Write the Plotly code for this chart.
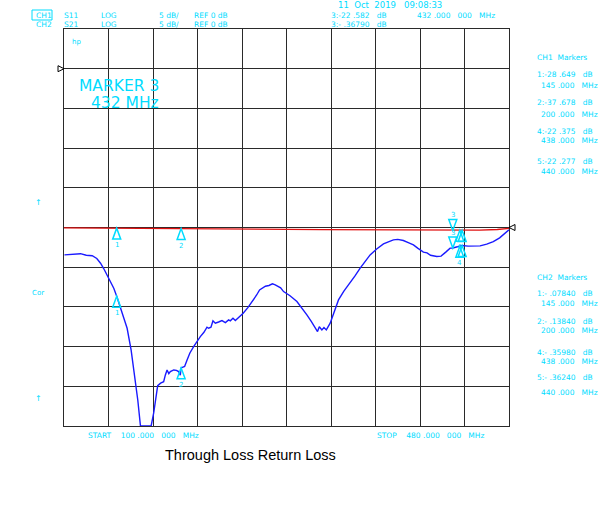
import plotly.graph_objects as go

# ---------------- data ----------------
s11_freq = [100.4, 107, 114.1, 119, 124.1, 128, 131.2, 134, 136.9, 139.7, 142.5, 145, 149.6, 153.9,
            157.3, 160.1, 163, 165.3, 174.4, 176.6, 178.5, 180, 182.5, 185.1, 186.5, 188, 189.5, 190.8,
            193.7, 196, 197.9, 199.3, 200, 203, 205.1, 207.5, 210.7, 213.5, 216.4, 219.5, 222.1, 223.5,
            225.5, 227.2, 229.2, 232, 234.9, 237.8, 240.6, 242, 244.3, 246.3, 250.6, 253, 257, 261.9,
            264.5, 267, 269.1, 272, 275, 278, 280.4, 283, 285, 287.5, 293, 298.9, 303, 307.4, 311, 314.5,
            316.5, 318, 320.2, 322, 324, 327.3, 330, 334.4, 339, 344.4, 348.5, 352.9, 357, 361.4, 367,
            372.8, 377, 381.3, 385, 389.8, 394, 398.4, 402, 406.9, 410, 413, 418.3, 422, 426, 429.7, 432,
            435, 438, 440, 445, 450, 455.3, 461, 466.6, 472, 476, 480]
s11_db = [-23.45, -23.35, -23.3, -23.5, -23.55, -23.9, -24.5, -25.2, -25.97, -26.8, -27.65, -28.65, -30.6,
          -32.69, -35.42, -38.32, -41.72, -45.0, -45.0, -43.36, -41.2, -39.92, -39.6, -39.42, -38.6, -37.94,
          -38.4, -38.15, -37.94, -38.0, -38.15, -38.6, -37.68, -37.5, -36.68, -35.8, -35.0, -34.3, -33.74,
          -33.2, -32.56, -32.69, -32.56, -31.76, -32.05, -31.9, -31.72, -31.97, -31.64, -31.75, -31.43,
          -31.72, -31.14, -30.8, -30.1, -29.12, -28.5, -27.86, -27.64, -27.4, -27.3, -27.1, -27.23, -27.5,
          -27.6, -28.07, -28.6, -29.33, -30.1, -31.0, -31.8, -32.69, -33.1, -32.5, -32.9, -32.6, -32.9,
          -32.05, -31.0, -29.12, -28.0, -27.0, -26.1, -25.12, -24.3, -23.45, -22.7, -22.06, -21.8, -21.56,
          -21.5, -21.64, -21.9, -22.19, -22.6, -23.1, -23.2, -23.5, -23.66, -23.6, -23.1, -22.6, -22.582,
          -22.45, -22.375, -22.277, -22.35, -22.3, -22.31, -22.1, -21.77, -21.3, -20.8, -20.3]

s21_freq = [100, 120, 145, 170, 200, 230, 260, 290, 320, 350, 380, 410, 432, 438, 440, 455, 470, 480]
s21_db = [-0.05, -0.06, -0.0784, -0.1, -0.1384, -0.17, -0.2, -0.24, -0.27, -0.3, -0.32, -0.34,
          -0.3679, -0.3598, -0.3624, -0.33, -0.25, -0.12]

marker_num = [1, 2, 3, 4, 5]
marker_freq = [145, 200, 432, 438, 440]
marker_ch1 = [-28.649, -37.678, -22.582, -22.375, -22.277]
marker_ch2 = [-0.0784, -0.1384, -0.3679, -0.3598, -0.3624]
active_marker = 3

CYAN = "#00dcff"
FONT = "DejaVu Sans"

fig = go.Figure()
fig.add_trace(go.Scatter(x=s21_freq, y=s21_db, mode="lines", yaxis="y2",
                         line=dict(color="#e01010", width=1.3), hoverinfo="skip"))
fig.add_trace(go.Scatter(x=s11_freq, y=s11_db, mode="lines", yaxis="y", cliponaxis=False,
                         line=dict(color="#1a1aff", width=1.4), hoverinfo="skip"))

shapes = []
annotations = []

# marker triangles
for num, f, v1, v2 in zip(marker_num, marker_freq, marker_ch1, marker_ch2):
    for yref, v in (("y", v1), ("y2", v2)):
        if num == active_marker:
            path = "M0,0 L-4,11 L4,11 Z"
            lab_shift = 15
        else:
            path = "M0,0 L-4,-11 L4,-11 Z"
            lab_shift = -17
        shapes.append(dict(type="path", xref="x", yref=yref, xsizemode="pixel", ysizemode="pixel",
                           xanchor=f, yanchor=v, path=path, line=dict(color=CYAN, width=1.5)))
        if num != 5:
            annotations.append(dict(text=str(num), x=f, y=v, xref="x", yref=yref, yshift=lab_shift,
                                    showarrow=False, font=dict(family=FONT, size=7, color=CYAN)))

# reference position indicators
shapes.append(dict(type="path", xref="paper", yref="y", xsizemode="pixel", ysizemode="pixel",
                   xanchor=0, yanchor=0, path="M-6,3 L0,0 L-6,-3 Z", line=dict(color="black", width=1)))
shapes.append(dict(type="path", xref="paper", yref="y2", xsizemode="pixel", ysizemode="pixel",
                   xanchor=1, yanchor=0, path="M6,3 L0,0 L6,-3 Z", line=dict(color="black", width=1)))

L, R, T, B = 64, 509, 29, 426


def txt(text, px, py, size=7.5, color=CYAN, xanchor="left", family=FONT):
    annotations.append(dict(text=text, x=(px - L) / (R - L), y=(B - py) / (B - T), xref="paper",
                            yref="paper", showarrow=False, xanchor=xanchor, yanchor="middle",
                            font=dict(family=family, size=size, color=color)))


hdr1 = ["CH1", "S11", "LOG", "5 dB/", "REF 0 dB"]
hdr2 = ["CH2", "S21", "LOG", "5 dB/", "REF 0 dB"]
hdr_x = [34, 62, 99, 157, 192]
for t, xx in zip(hdr1, hdr_x):
    txt(t, xx, 15)
for t, xx in zip(hdr2, hdr_x):
    txt(t, xx, 24)
shapes.append(dict(type="rect", xref="paper", yref="paper",
                   x0=(32 - L) / (R - L), x1=(52 - L) / (R - L),
                   y0=(B - 20) / (B - T), y1=(B - 10) / (B - T), line=dict(color=CYAN, width=1)))

txt("11  Oct  2019   09:08:33", 336, 5, size=8.5)
txt("3:-22 .582   dB", 329, 15)
txt("432 .000   000   MHz", 415, 15)
txt("3:- .36790   dB", 329, 24)
txt("hp", 70, 42, size=7)
txt("MARKER 3", 77, 86, size=15.5)
txt("432 MHz", 89, 103, size=15.5)
txt("↑", 38, 203, size=8, xanchor="center")
txt("Cor", 38, 293, size=7, xanchor="center")
txt("↑", 38, 398, size=8, xanchor="center")

ch1_lines = [("CH1  Markers", 58), ("1:-28 .649   dB", 75), ("145 .000   MHz", 85),
             ("2:-37 .678   dB", 102), ("200 .000   MHz", 114), ("4:-22 .375   dB", 131),
             ("438 .000   MHz", 140), ("5:-22 .277   dB", 161), ("440 .000   MHz", 171)]
ch2_lines = [("CH2  Markers", 277), ("1:- .07840   dB", 293), ("145 .000   MHz", 303),
             ("2:- .13840   dB", 321), ("200 .000   MHz", 330), ("4:- .35980   dB", 352),
             ("438 .000   MHz", 361), ("5:- .36240   dB", 377), ("440 .000   MHz", 392)]
for t, yy in ch1_lines + ch2_lines:
    xx = 535 if ("Markers" in t or ":" in t) else 539
    txt(t, xx, yy, size=7.5)

txt("START    100 .000   000   MHz", 86, 436, size=7.5)
txt("STOP    480 .000   000   MHz", 375, 436, size=7.5)
txt("Through Loss Return Loss", 250, 455, size=14.5, color="black", xanchor="center",
    family="Liberation Sans")

grid = dict(showgrid=True, gridcolor="#2a2a2a", gridwidth=1.4, zeroline=False, showticklabels=False,
            ticks="", showline=True, linecolor="#2a2a2a", linewidth=1.4, mirror=True)

fig.update_layout(
    width=600, height=530,
    margin=dict(l=L, r=600 - R, t=T, b=530 - B),
    paper_bgcolor="white", plot_bgcolor="white",
    showlegend=False,
    xaxis=dict(range=[100, 480], dtick=38, tick0=100, **grid),
    yaxis=dict(range=[-45, 5], dtick=5, tick0=-45, **grid),
    yaxis2=dict(range=[-25, 25], overlaying="y", showgrid=False, showticklabels=False, zeroline=False,
                ticks="", showline=False),
    shapes=shapes,
    annotations=annotations,
)

fig.write_html("out.html", config={"displayModeBar": False},
               post_script="document.body.style.margin='0';document.body.style.overflow='hidden';")
